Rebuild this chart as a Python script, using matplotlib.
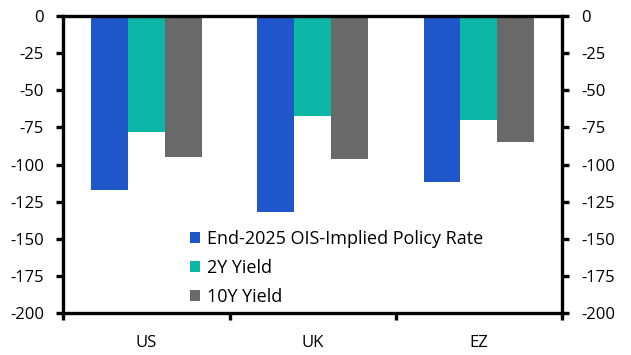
import numpy as np
import matplotlib.pyplot as plt

plt.rcParams['font.family'] = ['Open Sans', 'DejaVu Sans']
plt.rcParams['axes.unicode_minus'] = False

# data
regions = ["US", "UK", "EZ"]
ois_policy = [-117, -132, -112]
yield_2y = [-78, -67, -70]
yield_10y = [-95, -96, -85]
series_names = ["End-2025 OIS-Implied Policy Rate", "2Y Yield", "10Y Yield"]
colors = ["#1f57cb", "#0db7a8", "#696969"]

fig = plt.figure(figsize=(6.31, 3.55), dpi=100)
ax = fig.add_axes([0.1006, 0.1183, 0.7900, 0.8366])

x = np.arange(len(regions))
w = 0.222
for i, (vals, name, col) in enumerate(zip([ois_policy, yield_2y, yield_10y], series_names, colors)):
    ax.bar(x + (i - 1) * w, vals, width=w, color=col, label=name, zorder=2)

ax.set_xlim(-0.5, len(regions) - 0.5)
ax.set_ylim(-200, 0)
ax.set_yticks(np.arange(-200, 1, 25))

# category labels centred, tick marks on the boundaries
ax.set_xticks(np.arange(-0.5, len(regions), 1.0))
ax.set_xticklabels([])
ax.set_xticks(x, minor=True)
ax.set_xticklabels(regions, minor=True)
ax.tick_params(axis='x', which='minor', length=0, pad=16, labelsize=12)
ax.tick_params(axis='x', which='major', direction='out', length=5, width=2.4)
ax.tick_params(axis='y', which='major', direction='out', length=5, width=2.4,
               labelsize=12, pad=9, left=True, right=True, labelleft=True, labelright=True)

for s in ax.spines.values():
    s.set_linewidth(2.4)
    s.set_zorder(3)

leg = ax.legend(loc='lower left', bbox_to_anchor=(0.24, 0.0), frameon=False,
                fontsize=13, handlelength=0.55, handleheight=0.55, handletextpad=0.35,
                labelspacing=0.6, borderaxespad=0.2, borderpad=0.2)

fig.savefig("out.png", dpi=100)
